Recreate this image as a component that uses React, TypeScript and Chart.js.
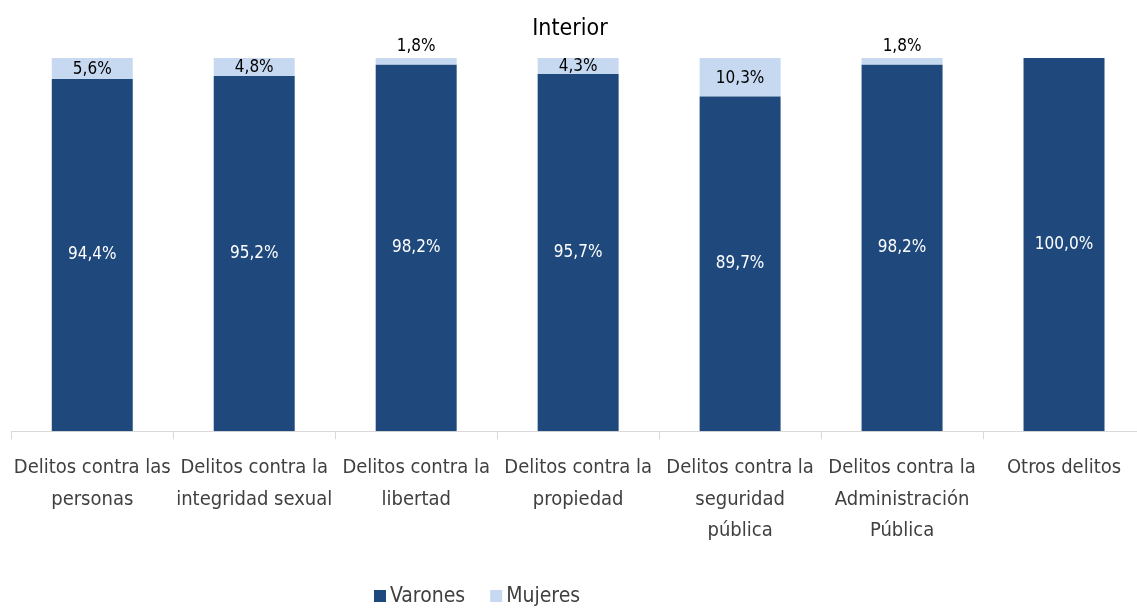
import React, { useEffect, useRef } from "react";
import { Chart, registerables } from "chart.js";

Chart.register(...registerables);

const chartTitle = "Interior";
const categories: string[][] = [
  ["Delitos contra las", "personas"],
  ["Delitos contra la", "integridad sexual"],
  ["Delitos contra la", "libertad"],
  ["Delitos contra la", "propiedad"],
  ["Delitos contra la", "seguridad", "pública"],
  ["Delitos contra la", "Administración", "Pública"],
  ["Otros delitos"],
];
const seriesNames = ["Varones", "Mujeres"];
const varones = [94.4, 95.2, 98.2, 95.7, 89.7, 98.2, 100.0];
const mujeres = [5.6, 4.8, 1.8, 4.3, 10.3, 1.8, 0];

const DARK = "#1f497d";
const LIGHT = "#c6d9f1";
const FONT = "'DejaVu Sans Condensed', 'Liberation Sans Narrow', sans-serif";
const TEXT = "#404040";

const fmt = (v: number) => v.toFixed(1).replace(".", ",") + "%";

const overlayPlugin = {
  id: "overlay",
  afterDatasetsDraw(chart: any) {
    const ctx = chart.ctx;
    ctx.save();
    ctx.font = `17px ${FONT}`;
    ctx.textAlign = "center";
    ctx.textBaseline = "middle";
    chart.data.datasets.forEach((ds: any, di: number) => {
      const meta = chart.getDatasetMeta(di);
      meta.data.forEach((el: any, i: number) => {
        const v = ds.data[i];
        if (!v) return;
        const { x, y, base } = el.getProps(["x", "y", "base"], true);
        const h = base - y;
        let ly = (y + base) / 2;
        if (di === 1 && h < 12) ly = y - 11;
        if (di === 1 && h >= 12) ly = (y + base) / 2 + 1;
        ctx.fillStyle = di === 0 ? "#ffffff" : "#000000";
        ctx.fillText(fmt(v), x, ly);
      });
    });
    ctx.restore();
  },
  afterDraw(chart: any) {
    const ctx = chart.ctx;
    ctx.save();
    // title
    ctx.font = `23px ${FONT}`;
    ctx.fillStyle = "#000000";
    ctx.textAlign = "center";
    ctx.textBaseline = "middle";
    ctx.fillText(chartTitle, 570, 29);
    // legend
    ctx.font = `21px ${FONT}`;
    ctx.textAlign = "left";
    ctx.fillStyle = TEXT;
    let x = 374;
    const cy = 596;
    const colors = [DARK, LIGHT];
    seriesNames.forEach((name, i) => {
      ctx.fillStyle = colors[i];
      ctx.fillRect(x, cy - 6, 12, 12);
      ctx.fillStyle = TEXT;
      ctx.fillText(name, x + 16, cy + 1);
      x += 16 + ctx.measureText(name).width + 25;
    });
    ctx.restore();
  },
};

export default function App() {
  const ref = useRef<HTMLCanvasElement | null>(null);
  useEffect(() => {
    if (!ref.current) return;
    const chart = new Chart(ref.current, {
      type: "bar",
      data: {
        labels: categories,
        datasets: [
          {
            label: seriesNames[0],
            data: varones,
            backgroundColor: DARK,
            categoryPercentage: 1,
            barPercentage: 0.5,
          },
          {
            label: seriesNames[1],
            data: mujeres,
            backgroundColor: LIGHT,
            categoryPercentage: 1,
            barPercentage: 0.5,
          },
        ],
      },
      options: {
        responsive: false,
        animation: false,
        devicePixelRatio: 1,
        layout: { padding: { left: 11, right: 15, top: 58, bottom: 48 } },
        plugins: {
          legend: { display: false },
          title: { display: false },
          tooltip: { enabled: false },
        },
        scales: {
          x: {
            stacked: true,
            offset: true,
            grid: {
              display: true,
              drawOnChartArea: false,
              drawTicks: true,
              tickLength: 8,
              offset: true,
              color: "#d9d9d9",
            },
            border: { display: true, color: "#d9d9d9" },
            ticks: {
              color: TEXT,
              font: { family: FONT, size: 20, lineHeight: 1.58 },
              padding: 13,
              maxRotation: 0,
              autoSkip: false,
            },
          },
          y: {
            stacked: true,
            display: false,
            min: 0,
            max: 100,
          },
        },
      },
      plugins: [overlayPlugin],
    });
    return () => chart.destroy();
  }, []);
  return (
    <div
      style={{
        position: "absolute",
        left: 0,
        top: 0,
        width: 1137,
        height: 608,
        overflow: "hidden",
        background: "#ffffff",
      }}
    >
      <canvas ref={ref} width={1160} height={608} style={{ display: "block" }} />
    </div>
  );
}
